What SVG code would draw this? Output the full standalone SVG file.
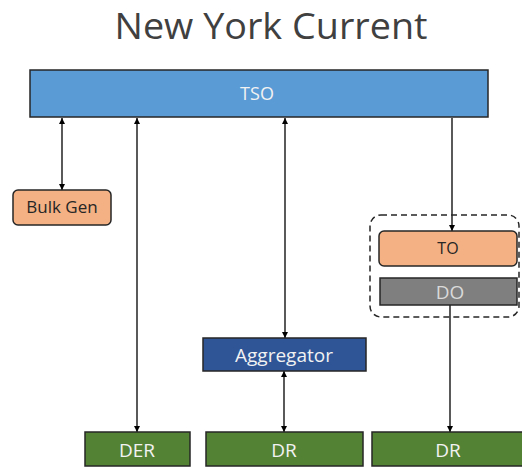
<svg xmlns="http://www.w3.org/2000/svg" width="522" height="467" viewBox="0 0 522 467">
<style>
text{font-family:"Open Sans","Liberation Sans",sans-serif;text-anchor:middle}
.box{stroke:#262626;stroke-width:1.5}
.ln{stroke:#000;stroke-width:1.3;fill:none}
.lt{fill:#F2F2F2}
.dk{fill:#262626}
</style>
<defs>
<marker id="ah" viewBox="0 0 8 8" refX="8" refY="4" markerWidth="6" markerHeight="6" markerUnits="userSpaceOnUse" orient="auto-start-reverse"><path d="M0,0 L8,4 L0,8 z" fill="#000"/></marker>
</defs>
<rect width="522" height="467" fill="#fff"/>
<text x="271" y="39" font-size="36" fill="#404040" textLength="313" lengthAdjust="spacingAndGlyphs">New York Current</text>
<g id="connectors">
<line class="ln" x1="62" y1="118" x2="62" y2="190" marker-start="url(#ah)" marker-end="url(#ah)"/>
<line class="ln" x1="137" y1="118" x2="137" y2="432" marker-start="url(#ah)" marker-end="url(#ah)"/>
<line class="ln" x1="285" y1="118" x2="285" y2="338" marker-start="url(#ah)" marker-end="url(#ah)"/>
<line class="ln" x1="284" y1="371" x2="284" y2="432" marker-start="url(#ah)" marker-end="url(#ah)"/>
<line class="ln" x1="452" y1="118" x2="452" y2="231" marker-end="url(#ah)"/>
<line class="ln" x1="450" y1="305" x2="450" y2="432" marker-end="url(#ah)"/>
</g>
<g id="tso"><rect class="box" x="30" y="70" width="458" height="47" fill="#5B9BD5"/><text class="lt" x="257" y="100" font-size="18">TSO</text></g>
<g id="bulkgen"><rect class="box" x="13" y="190" width="98" height="35" rx="5" fill="#F4B183"/><text class="dk" x="62" y="213" font-size="17">Bulk Gen</text></g>
<g id="group"><rect x="370" y="215" width="149" height="102" rx="11" fill="none" stroke="#262626" stroke-width="1.5" stroke-dasharray="6,4"/></g>
<g id="to"><rect class="box" x="379" y="231" width="138" height="35" rx="5" fill="#F4B183"/><text class="dk" x="448" y="254" font-size="16">TO</text></g>
<g id="do"><rect class="box" x="380" y="278" width="137" height="27" fill="#7F7F7F"/><text fill="#D9D9D9" x="450" y="299" font-size="19">DO</text></g>
<g id="aggregator"><rect class="box" x="203" y="338" width="163" height="33" fill="#2F5597"/><text class="lt" x="284" y="362" font-size="19">Aggregator</text></g>
<g id="der"><rect class="box" x="85" y="432" width="105" height="34" fill="#548235"/><text class="lt" x="137" y="457" font-size="19">DER</text></g>
<g id="dr1"><rect class="box" x="206" y="432" width="157" height="34" fill="#548235"/><text class="lt" x="284" y="457" font-size="19">DR</text></g>
<g id="dr2"><rect class="box" x="372" y="432" width="152" height="34" fill="#548235"/><text class="lt" x="448" y="457" font-size="19">DR</text></g>
</svg>
